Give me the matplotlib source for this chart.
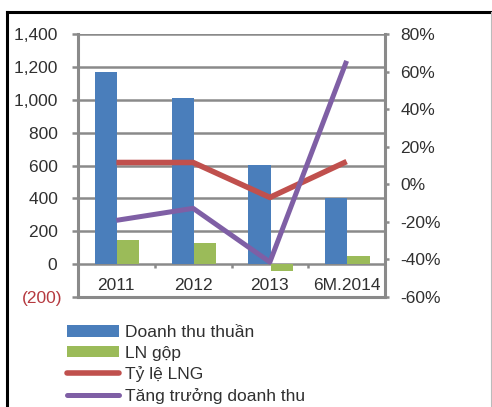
import numpy as np
import matplotlib
matplotlib.use("Agg")
import matplotlib.pyplot as plt
from matplotlib.lines import Line2D
from matplotlib.patches import Patch

plt.rcParams['font.family'] = ['Liberation Sans', 'DejaVu Sans']

years = ['2011', '2012', '2013', '6M.2014']
revenue = [1170, 1010, 602, 402]       # Doanh thu thuần
gross = [146, 128, -42, 49]            # LN gộp
margin = [11.6, 11.6, -7.0, 12.1]      # Tỷ lệ LNG (%)
growth = [-19.2, -12.8, -41.4, 65.7]   # Tăng trưởng doanh thu (%)

left_ticks = [-200, 0, 200, 400, 600, 800, 1000, 1200, 1400]
right_ticks = [-60, -40, -20, 0, 20, 40, 60, 80]

BLUE, GREEN, RED, PURPLE = '#4a7ebb', '#9bbb59', '#c0504d', '#7f5fa5'
GRID = '#8a8a8a'
TXT = '#303030'
FS = 12.5

fig = plt.figure(figsize=(4.92, 4.07), dpi=100)
ax = fig.add_axes([78/492, 110/407, 307/492, 263/407])
ax2 = ax.twinx()

x = np.arange(len(years))
w = 0.29
ax.bar(x - w/2 + 0.01, revenue, w, color=BLUE, zorder=3)
ax.bar(x + w/2 + 0.01, gross, w, color=GREEN, zorder=3)

ax.set_xlim(-0.5, len(years) - 0.5)
ax.set_ylim(-200, 1400)
ax.set_yticks(left_ticks)
ax.set_yticklabels(['(200)'] + [f'{v:,} ' for v in left_ticks[1:]])
ax.yaxis.grid(True, color=GRID, lw=1.8, zorder=0)
ax.set_axisbelow(True)
ax.tick_params(axis='y', direction='out', length=4, width=1.8, color=GRID,
               pad=7, labelsize=FS, labelcolor=TXT)
ax.yaxis.get_major_ticks()[0].label1.set_color('#b5393f')
ax.set_xticks([])
for s in ['top', 'right']:
    ax.spines[s].set_visible(False)
for s in ['left', 'bottom']:
    ax.spines[s].set_color(GRID)
    ax.spines[s].set_linewidth(2.2)

for i, yr in enumerate(years):
    ax.text(i, -127, yr, ha='center', va='center', fontsize=FS, color=TXT)

# tick marks between categories on the zero line
sec = ax.secondary_xaxis(200/1600)
sec.set_xticks([0.5, 1.5, 2.5])
sec.set_xticklabels([])
sec.tick_params(direction='out', length=3, width=1.8, color=GRID)
sec.spines['bottom'].set_visible(False)

ax2.plot(x, np.array(margin) / 100, color=RED, lw=4, solid_capstyle='butt', zorder=4)
ax2.plot(x, np.array(growth) / 100, color=PURPLE, lw=3.6, solid_capstyle='butt', zorder=5)
ax2.set_ylim(-0.6, 0.8)
ax2.set_yticks([v / 100 for v in right_ticks])
ax2.set_yticklabels([f'{v}%' for v in right_ticks])
ax2.tick_params(axis='y', direction='out', length=3, width=1.8, color=GRID,
                pad=8, labelsize=FS, labelcolor=TXT)
for s in ['top', 'left', 'bottom']:
    ax2.spines[s].set_visible(False)
ax2.spines['right'].set_color(GRID)
ax2.spines['right'].set_linewidth(2.2)

handles = [
    Patch(facecolor=BLUE, label='Doanh thu thuần'),
    Patch(facecolor=GREEN, label='LN gộp'),
    Line2D([], [], color=RED, lw=4, solid_capstyle='round', label='Tỷ lệ LNG'),
    Line2D([], [], color=PURPLE, lw=3.6, solid_capstyle='round', label='Tăng trưởng doanh thu'),
]
fig.legend(handles=handles, loc='upper left', bbox_to_anchor=(67/492, 1 - 325/407),
           frameon=False, fontsize=FS, handlelength=3.0, handleheight=0.65,
           handletextpad=0.35, labelspacing=0.32, borderpad=0, borderaxespad=0,
           labelcolor=TXT)

# outer frame
fig.add_artist(Line2D([7/492, 7/492], [0, 1 - 12/407], color='black', lw=2.2,
                      transform=fig.transFigure, solid_capstyle='projecting'))
fig.add_artist(Line2D([7/492, 491/492], [1 - 12/407, 1 - 12/407], color='black', lw=2.2,
                      transform=fig.transFigure, solid_capstyle='projecting'))
fig.add_artist(Line2D([490.5/492, 490.5/492], [0, 1 - 12/407], color='#bbbbbb', lw=0.8,
                      transform=fig.transFigure))

fig.savefig('out.png', dpi=100)
